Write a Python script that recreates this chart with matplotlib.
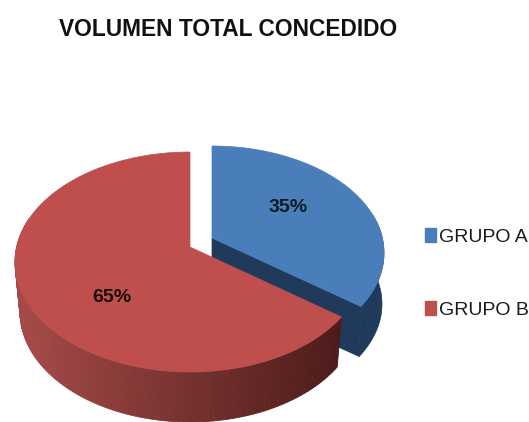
import numpy as np
import matplotlib
matplotlib.use("Agg")
import matplotlib.pyplot as plt
from matplotlib.colors import to_rgb
from matplotlib.patches import Patch, Polygon

labels = ["GRUPO A", "GRUPO B"]
values = [35, 65]
pct_labels = ["35%", "65%"]
title = "VOLUMEN TOTAL CONCEDIDO"

blue_top = "#4a7ebb"
blue_side = "#1f3a5a"
red_top = "#be4f4c"
red_left = "#a54a48"
red_right = "#4d1c1a"
font = "Liberation Sans"

fig = plt.figure(figsize=(5.29, 4.22), dpi=100)
ax = fig.add_axes([0, 0, 1, 1])
ax.set_xlim(0, 529)
ax.set_ylim(422, 0)
ax.axis("off")


# pie angle (clockwise from top) -> angle on the ellipse, the view squeezes it a bit
def warp(deg):
    return deg - 7.4 * np.sin(np.radians(deg))


def rim(deg, cx, cy, rx, ry):
    t = np.radians(warp(deg))
    return cx + rx * np.sin(t), cy - ry * np.cos(t)


split = 360 * values[0] / sum(values)

# blue slice, pulled out
bc = (212, 253, 172, 107)
bd = np.linspace(0, split, 80)
bx, by = rim(bd, *bc)
lowx, lowy = rim(bd, 212, 304, 170, 105)
keep = bd >= 75
ax.add_patch(Polygon(np.r_[np.c_[bx[keep], by[keep]], np.c_[lowx[keep], lowy[keep]][::-1]],
                     fc=blue_side, ec=blue_side, lw=0.5, zorder=1))
ax.add_patch(Polygon([(212, 238), (bx[-1], by[-1]), (lowx[-1], lowy[-1]), (212, 290)],
                     fc=blue_side, ec=blue_side, lw=0.5, zorder=1))
ax.add_patch(Polygon(np.r_[[(212, 238)], np.c_[bx, by]], fc=blue_top, ec=blue_top, lw=0.5, zorder=2))

# red slice, side wall drawn in strips for the gradient
rc = (190, 262, 175, 110)
rd = np.linspace(split, 360, 160)
rx_, ry_ = rim(rd, *rc)
lx_, ly_ = rim(rd, 190, 312, 170, 110)
c0, c1 = np.array(to_rgb(red_left)), np.array(to_rgb(red_right))
for i in range(len(rd) - 1):
    if rd[i] > 285:
        continue
    f = np.clip((rx_[i] - 20) / 320, 0, 1)
    col = c0 + (c1 - c0) * f
    ax.add_patch(Polygon([(rx_[i], ry_[i]), (rx_[i + 1], ry_[i + 1]), (lx_[i + 1], ly_[i + 1]), (lx_[i], ly_[i])],
                         fc=col, ec=col, lw=0.6, zorder=3))
ax.add_patch(Polygon(np.r_[[(190, 247)], np.c_[rx_, ry_]], fc=red_top, ec=red_top, lw=0.5, zorder=4))

ax.text(288, 208, pct_labels[0], family=font, fontsize=14, fontweight="bold",
        color="#111a24", ha="center", va="center", zorder=5)
ax.text(112, 298, pct_labels[1], family=font, fontsize=14, fontweight="bold",
        color="#1a0d0d", ha="center", va="center", zorder=5)

ax.text(228, 30, title, family=font, fontsize=16.4, fontweight="bold",
        color="#111111", ha="center", va="center")

handles = [Patch(color=blue_top), Patch(color=red_top)]
ax.legend(handles, labels, loc="center left", bbox_to_anchor=(425 / 529, 1 - 273.5 / 422),
          frameon=False, prop={"family": font, "size": 14}, labelcolor="#1a1a1a",
          handlelength=0.55, handleheight=0.75, handletextpad=0.15, labelspacing=2.85, borderpad=0, borderaxespad=0)

fig.savefig("out.png", dpi=100)
